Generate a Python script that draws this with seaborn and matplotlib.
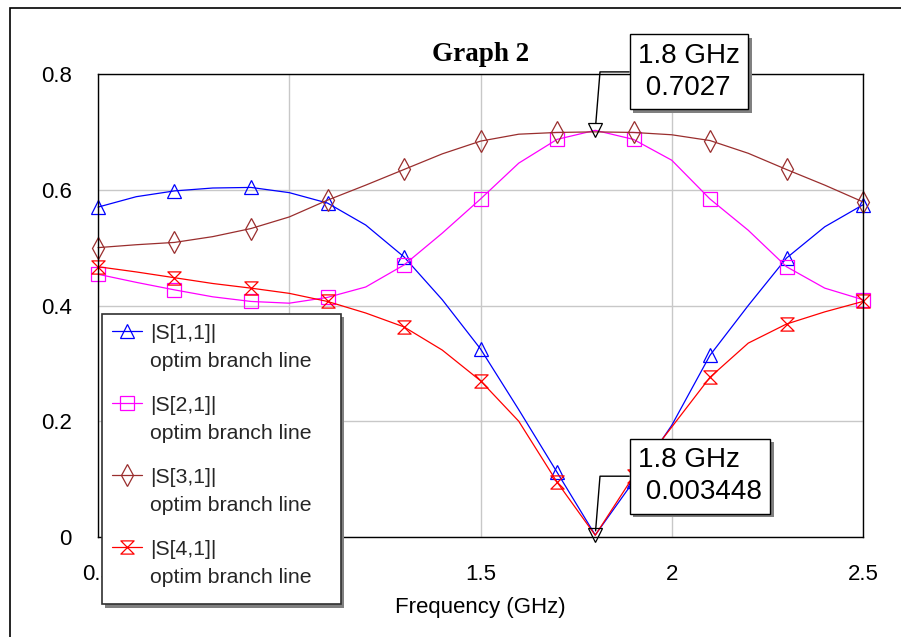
import matplotlib
matplotlib.use("Agg")
import matplotlib.pyplot as plt
import matplotlib.patheffects as pe
from matplotlib.lines import Line2D
from matplotlib.path import Path
import seaborn as sns

# ---------------- data ----------------
freq = [0.5, 0.6, 0.7, 0.8, 0.9, 1.0, 1.1, 1.2, 1.3, 1.4, 1.5,
        1.6, 1.7, 1.8, 1.9, 2.0, 2.1, 2.2, 2.3, 2.4, 2.5]
s11 = [0.570, 0.588, 0.598, 0.603, 0.604, 0.595, 0.577, 0.539, 0.484, 0.410, 0.325,
       0.220, 0.112, 0.0034, 0.096, 0.193, 0.314, 0.400, 0.482, 0.536, 0.574]
s21 = [0.454, 0.440, 0.427, 0.415, 0.407, 0.404, 0.414, 0.432, 0.470, 0.525, 0.584,
       0.646, 0.687, 0.7027, 0.687, 0.651, 0.584, 0.530, 0.467, 0.430, 0.410]
s31 = [0.500, 0.505, 0.509, 0.519, 0.533, 0.553, 0.582, 0.608, 0.635, 0.662, 0.684,
       0.696, 0.699, 0.700, 0.699, 0.695, 0.685, 0.663, 0.635, 0.608, 0.579]
s41 = [0.467, 0.458, 0.448, 0.438, 0.430, 0.421, 0.407, 0.387, 0.363, 0.323, 0.270,
       0.200, 0.095, 0.003, 0.105, 0.190, 0.276, 0.335, 0.368, 0.389, 0.407]
series_names = ["|S[1,1]|", "|S[2,1]|", "|S[3,1]|", "|S[4,1]|"]
series_sub = "optim branch line"
marker_freq = [1.8, 1.8]
marker_vals = [0.7027, 0.003448]
marker_texts = ["1.8 GHz\n 0.7027", "1.8 GHz\n 0.003448"]
xticks = [0.5, 1.0, 1.5, 2.0, 2.5]
xtick_labels = ["0.5", "1", "1.5", "2", "2.5"]
yticks = [0.0, 0.2, 0.4, 0.6, 0.8]
ytick_labels = ["0", "0.2", "0.4", "0.6", "0.8"]

# ---------------- style ----------------
sns.set_theme(style="white")
plt.rcParams['font.family'] = ['Liberation Sans', 'DejaVu Sans']

W, H = 901, 637
fig = plt.figure(figsize=(W / 100, H / 100), dpi=100)
ax = fig.add_axes([98 / W, 1 - 537 / H, (863 - 98) / W, (537 - 74) / H])

hourglass = Path([(-1, 1), (1, 1), (-1, -1), (1, -1), (-1, 1)],
                 [Path.MOVETO, Path.LINETO, Path.LINETO, Path.LINETO, Path.CLOSEPOLY])

colors = ["#0000ff", "#ff00ff", "#9a2e2e", "#ff0000"]
markers = ["^", "s", "d", hourglass]
msizes = [10, 9.5, 11, 9.5]
values = [s11, s21, s31, s41]

handles = []
labels = []
for name, vals, c, m, ms in zip(series_names, values, colors, markers, msizes):
    sns.lineplot(x=freq, y=vals, ax=ax, color=c, lw=0.9, marker=m, markersize=ms,
                 markevery=2, markerfacecolor='none', markeredgecolor=c,
                 markeredgewidth=0.9, clip_on=False, errorbar=None, legend=False)
    handles.append(Line2D([], [], color=c, lw=0.9, marker=m, markersize=ms,
                          markerfacecolor='none', markeredgecolor=c, markeredgewidth=0.9))
    labels.append(name)
    handles.append(Line2D([], [], color='none'))
    labels.append(series_sub)

ax.plot(marker_freq, marker_vals, linestyle='none', marker='v', markersize=10,
        markerfacecolor='none', markeredgecolor='black', markeredgewidth=0.9,
        clip_on=False, zorder=5)

ax.set_xlim(0.5, 2.5)
ax.set_ylim(0, 0.8)
ax.set_xticks(xticks)
ax.set_xticklabels(xtick_labels)
ax.set_yticks(yticks)
ax.set_yticklabels(ytick_labels)
ax.tick_params(axis='both', length=0, labelsize=16, colors='black')
ax.tick_params(axis='y', pad=19)
ax.tick_params(axis='x', pad=19.5)
ax.grid(True, color='#c8c8c8', lw=1)
for sp in ax.spines.values():
    sp.set_visible(True)
    sp.set_color('black')
    sp.set_linewidth(1)
ax.set_xlabel("Frequency (GHz)", fontsize=16, labelpad=8.5, color='black')
ax.set_ylabel("")
ax.set_title("Graph 2", fontfamily=['Liberation Serif', 'DejaVu Serif'],
             fontweight='bold', fontsize=19.5, pad=9.5, color='black')

# ---------------- legend ----------------
leg = ax.legend(handles, labels, loc='upper left',
                bbox_to_anchor=(102 / W, 1 - 600 / H, (341 - 102) / W, (600 - 314) / H),
                bbox_transform=fig.transFigure, mode='expand', borderaxespad=0,
                fontsize=15.3, frameon=True, fancybox=False, framealpha=1,
                edgecolor='#303030', handlelength=1.41, handletextpad=0.42,
                borderpad=0.45, labelspacing=0.8, numpoints=1)
leg.get_frame().set_linewidth(1.2)
leg.legendPatch.set_path_effects([pe.SimplePatchShadow(offset=(2.5, -2.5),
                                  shadow_rgbFace='#808080', alpha=1), pe.Normal()])
leg.set_zorder(10)
for t in leg.get_texts()[1::2]:
    t.set_position((0, 8))

# ---------------- marker annotations ----------------
text_pos = [(638, H - 71.9), (638, H - 476.2)]
shrinks = [5, 3]
for fx, vy, txt, pos, sh in zip(marker_freq, marker_vals, marker_texts, text_pos, shrinks):
    ann = ax.annotate(txt, xy=(fx, vy), xycoords='data', xytext=pos,
                      textcoords='figure pixels', ha='left', va='center',
                      fontsize=20, color='black', zorder=11, linespacing=1.32,
                      bbox=dict(boxstyle='square,pad=0.3', fc='white', ec='black', lw=1),
                      arrowprops=dict(arrowstyle='-', color='black', lw=1,
                                      shrinkA=0, shrinkB=sh, relpos=(0, 0.5),
                                      connectionstyle='arc,angleA=180,armA=38,angleB=90,armB=0,rad=0'))
    ann.get_bbox_patch().set_path_effects([pe.SimplePatchShadow(offset=(2.5, -2.5),
                                           shadow_rgbFace='#808080', alpha=1), pe.Normal()])

# ---------------- outer frame ----------------
fig.add_artist(plt.Rectangle((9.5 / W, -0.1), 1.2, 1.1 - 8.5 / H,
                             transform=fig.transFigure, fill=False,
                             ec='black', lw=1.2))

fig.savefig("out.png", dpi=100, facecolor='white')
